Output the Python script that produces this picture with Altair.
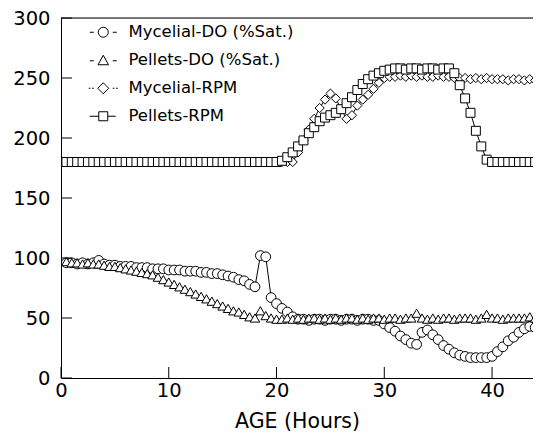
import altair as alt
import pandas as pd

# ---------------- data ----------------
hours = [
    0.5, 1.0, 1.5, 2.0, 2.5, 3.0, 3.5, 4.0, 4.5, 5.0,
    5.5, 6.0, 6.5, 7.0, 7.5, 8.0, 8.5, 9.0, 9.5, 10.0,
    10.5, 11.0, 11.5, 12.0, 12.5, 13.0, 13.5, 14.0, 14.5, 15.0,
    15.5, 16.0, 16.5, 17.0, 17.5, 18.0, 18.5, 19.0, 19.5, 20.0,
    20.5, 21.0, 21.5, 22.0, 22.5, 23.0, 23.5, 24.0, 24.5, 25.0,
    25.5, 26.0, 26.5, 27.0, 27.5, 28.0, 28.5, 29.0, 29.5, 30.0,
    30.5, 31.0, 31.5, 32.0, 32.5, 33.0, 33.5, 34.0, 34.5, 35.0,
    35.5, 36.0, 36.5, 37.0, 37.5, 38.0, 38.5, 39.0, 39.5, 40.0,
    40.5, 41.0, 41.5, 42.0, 42.5, 43.0, 43.5, 44.0, 44.5,
]

mycelial_do = [
    96, 96, 95, 96, 95, 96, 98, 95, 94, 94,
    93, 93, 93, 92, 92, 92, 91, 91, 91, 90,
    90, 90, 89, 89, 89, 88, 88, 87, 87, 86,
    85, 84, 82, 81, 78, 76, 102, 101, 67, 62,
    58, 55, 51, 49, 49, 48, 49, 49, 48, 49,
    49, 48, 49, 49, 48, 49, 49, 48, 48, 45,
    42, 39, 35, 32, 29, 28, 38, 40, 36, 32,
    27, 24, 21, 19, 18, 17, 17, 17, 17, 18,
    22, 26, 31, 34, 38, 41, 43, 42, 37,
]

pellets_do = [
    97, 96, 96, 95, 96, 95, 95, 94, 93, 93,
    92, 91, 90, 89, 88, 87, 86, 84, 82, 80,
    78, 76, 74, 72, 70, 68, 66, 64, 62, 60,
    58, 56, 55, 53, 51, 50, 56, 52, 50, 49,
    49, 50, 49, 50, 49, 50, 50, 49, 50, 49,
    50, 49, 50, 50, 49, 50, 49, 50, 50, 49,
    50, 50, 49, 50, 50, 54, 50, 49, 50, 49,
    50, 50, 49, 50, 50, 50, 49, 50, 53, 50,
    50, 49, 50, 50, 50, 50, 51, 50, 50,
]

mycelial_rpm = [
    180, 180, 180, 180, 180, 180, 180, 180, 180, 180,
    180, 180, 180, 180, 180, 180, 180, 180, 180, 180,
    180, 180, 180, 180, 180, 180, 180, 180, 180, 180,
    180, 180, 180, 180, 180, 180, 180, 180, 180, 180,
    180, 180, 180, 188, 198, 207, 216, 225, 232, 237,
    233, 224, 216, 219, 227, 232, 236, 241, 246, 250,
    251, 251, 252, 251, 252, 251, 252, 251, 251, 252,
    251, 251, 250, 250, 250, 249, 250, 249, 250, 249,
    249, 249, 248, 249, 249, 248, 249, 248, 248,
]

pellets_rpm = [
    180, 180, 180, 180, 180, 180, 180, 180, 180, 180,
    180, 180, 180, 180, 180, 180, 180, 180, 180, 180,
    180, 180, 180, 180, 180, 180, 180, 180, 180, 180,
    180, 180, 180, 180, 180, 180, 180, 180, 180, 180,
    181, 184, 188, 193, 198, 204, 209, 214, 217, 219,
    221, 224, 229, 234, 240, 245, 249, 252, 254, 256,
    257, 258, 258, 257, 258, 258, 257, 258, 258, 257,
    258, 258, 254, 244, 233, 221, 206, 193, 182, 180,
    180, 180, 180, 180, 180, 180, 180, 180, 180,
]

series_names = ["Mycelial-DO (%Sat.)", "Pellets-DO (%Sat.)", "Mycelial-RPM", "Pellets-RPM"]
x_tick_values = [0, 10, 20, 30, 40]
y_tick_values = [0, 50, 100, 150, 200, 250, 300]
x_title = "AGE (Hours)"

# ---------------- build table ----------------
rows = []
for name, vals in zip(series_names, [mycelial_do, pellets_do, mycelial_rpm, pellets_rpm]):
    for h, v in zip(hours, vals):
        rows.append({"hours": h, "value": v, "series": name})
df = pd.DataFrame(rows)

FONT = "DejaVu Sans"
W, H = 472, 360
TICK = 11

# the reference is cut off at its right edge, just past 43.8 h
xscale = alt.Scale(domain=[0, 43.8], nice=False, zero=False)
yscale = alt.Scale(domain=[0, 300], nice=False)

x_axis = alt.Axis(values=x_tick_values, title=x_title, ticks=False, tickSize=0, grid=False,
                  labelFlush=False, labelPadding=18, labelBaseline="alphabetic",
                  labelFontSize=19.5, labelFont=FONT, labelColor="black",
                  titleFont=FONT, titleFontSize=20.5, titleFontWeight="normal", titleColor="black",
                  titleBaseline="alphabetic", titleY=49,
                  domainColor="black", domainWidth=1)
y_axis = alt.Axis(values=y_tick_values, title=None, ticks=False, tickSize=0, grid=False,
                  labelPadding=11, labelFontSize=19.5, labelFont=FONT, labelColor="black",
                  domainColor="black", domainWidth=1)

X = alt.X("hours:Q", scale=xscale, axis=x_axis)
Y = alt.Y("value:Q", scale=yscale, axis=y_axis)

base = alt.Chart(df)

lines = base.mark_line(color="black", strokeWidth=1, clip=True).encode(
    x=X, y=Y, detail="series:N", order="hours:Q"
)

points = base.mark_point(filled=True, fill="white", stroke="black", strokeWidth=1,
                         opacity=1, clip=True).encode(
    x=X, y=Y,
    shape=alt.Shape("series:N",
                    scale=alt.Scale(domain=series_names,
                                    range=["circle", "triangle-up", "diamond", "square"]),
                    legend=None),
    size=alt.Size("series:N",
                  scale=alt.Scale(domain=series_names, range=[95, 80, 100, 70]),
                  legend=None),
)

# legend symbols: marker with short line pieces on both sides, as in the reference key
legend_paths = [
    "M-2.7,0H-1.9M1.9,0H2.7M1,0A1,1,0,1,1,-1,0A1,1,0,1,1,1,0Z",
    "M-2.7,0.1H-1.9M1.9,0.1H2.7M0,-1L1.05,0.9L-1.05,0.9Z",
    "M-2.9,0H-2.55M-2.25,0H-1.9M1.9,0H2.25M2.55,0H2.9M0,-1.1L1.1,0L0,1.1L-1.1,0Z",
    "M-2.7,0H-0.9M0.9,0H2.5M-0.9,-0.9H0.9V0.9H-0.9Z",
]

# legend-only layer: it draws no marks (filtered to nothing), its legend comes from the fixed domain
legend_layer = base.transform_filter("datum.hours < 0").mark_point(
    filled=False, color="black", strokeWidth=1
).encode(
    x=X, y=Y,
    shape=alt.Shape("series:N",
                    scale=alt.Scale(domain=series_names, range=legend_paths),
                    legend=alt.Legend(title=None, orient="none", legendX=34, legendY=6,
                                      padding=0, symbolSize=100, symbolOpacity=1,
                                      symbolFillColor="white", symbolStrokeColor="black",
                                      symbolStrokeWidth=1, labelFont=FONT, labelFontSize=16.5,
                                      labelColor="black", labelOffset=17, labelLimit=400,
                                      rowPadding=11)),
)

ytick_df = pd.DataFrame({"v": y_tick_values})
xtick_df = pd.DataFrame({"v": x_tick_values})

y_ticks = alt.Chart(ytick_df).mark_rule(color="black", strokeWidth=1).encode(
    y=alt.Y("v:Q", scale=yscale, axis=y_axis), x=alt.value(0), x2=alt.value(TICK)
)
x_ticks = alt.Chart(xtick_df).mark_rule(color="black", strokeWidth=1).encode(
    x=alt.X("v:Q", scale=xscale, axis=x_axis), y=alt.value(H), y2=alt.value(H - TICK)
)
top_border = alt.Chart(pd.DataFrame({"a": [0]})).mark_rule(color="black", strokeWidth=1).encode(
    x=alt.value(0), x2=alt.value(W), y=alt.value(0)
)

chart = alt.layer(lines, points, legend_layer, y_ticks, x_ticks, top_border).resolve_scale(
    shape="independent", size="independent"
).resolve_legend(shape="independent").properties(
    width=W, height=H,
    autosize=alt.AutoSizeParams(type="none"),
    padding={"left": 53, "top": 10, "right": 0, "bottom": 53},
).configure_view(stroke=None).configure(background="white")

chart.save("out.html", embed_options={"renderer": "svg", "actions": False})
